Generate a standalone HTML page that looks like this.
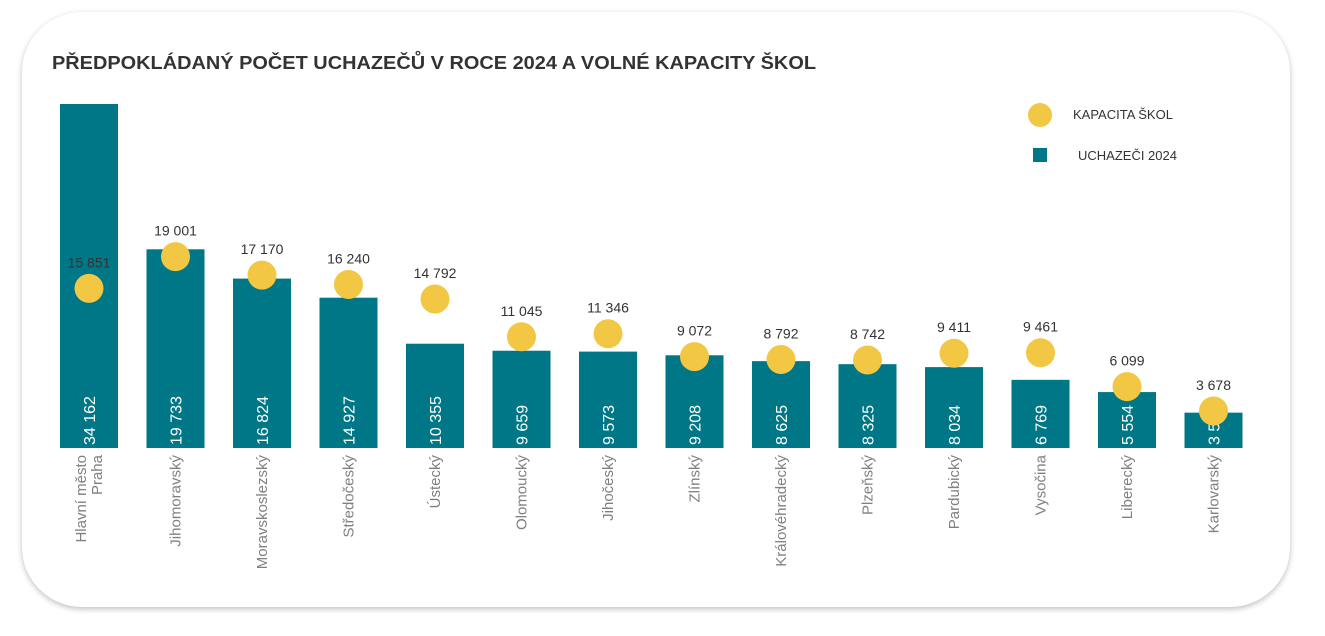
<!DOCTYPE html>
<html><head><meta charset="utf-8"><style>
body{margin:0;width:1325px;height:636px;background:#fff;overflow:hidden;font-family:"Liberation Sans",sans-serif}
#card{position:absolute;left:22px;top:12px;width:1268px;height:595px;border-radius:60px;background:#fff;box-shadow:0 2px 6px rgba(0,0,0,.25)}
svg{position:absolute;left:0;top:0}
</style></head><body>
<div id="card"></div>
<svg id="chart" width="1325" height="636">
<text x="52" y="69" font-size="18.5" font-weight="bold" fill="#333" textLength="764" lengthAdjust="spacingAndGlyphs">PŘEDPOKLÁDANÝ POČET UCHAZEČŮ V ROCE 2024 A VOLNÉ KAPACITY ŠKOL</text>
<circle cx="1040" cy="115" r="12" fill="#f2c744"/>
<text x="1073" y="119" font-size="13" fill="#333">KAPACITA ŠKOL</text>
<rect x="1033" y="148" width="14" height="14" fill="#007786"/>
<text x="1078" y="160" font-size="13" fill="#333">UCHAZEČI 2024</text>
</svg>
<script>
const categories=["Hlavní město|Praha","Jihomoravský","Moravskoslezský","Středočeský","Ústecký","Olomoucký","Jihočeský","Zlínský","Královéhradecký","Plzeňský","Pardubický","Vysočina","Liberecký","Karlovarský"];
const applicants=[34162,19733,16824,14927,10355,9659,9573,9208,8625,8325,8034,6769,5554,3512];
const capacity=[15851,19001,17170,16240,14792,11045,11346,9072,8792,8742,9411,9461,6099,3678];
const svg=document.getElementById('chart');const NS='http://www.w3.org/2000/svg';
const base=448,k=344/34162;
const y=v=>base-v*k;
const x=i=>89+i*86.5;
const fmt=v=>String(v).replace(/\B(?=(\d{3})+(?!\d))/g,' ');
function mk(t,a){const e=document.createElementNS(NS,t);for(const n in a)e.setAttribute(n,a[n]);svg.appendChild(e);return e;}
categories.forEach((c,i)=>{
 const cx=x(i);
 const r=mk('rect',{x:cx-29,y:y(applicants[i]),width:58,height:base-y(applicants[i]),fill:'#007786'});
 
 
 const vl=mk('text',{x:0,y:0,'font-size':16,fill:'#fff','text-anchor':'start',transform:`translate(${cx+6},${base-3}) rotate(-90)`});
 vl.textContent=fmt(applicants[i]);
 
 
 const lines=c.split('|');
 lines.forEach((ln,j)=>{
  const off=(j-(lines.length-1)/2)*16;
  const t=mk('text',{x:0,y:0,'font-size':15,fill:'#808080','text-anchor':'end',transform:`translate(${cx+5+off},${455}) rotate(-90)`});
  t.textContent=ln;
  
  
 });
 const cy=y(capacity[i]);
 const ci=mk('circle',{cx:cx,cy:cy,r:14.5,fill:'#f2c744'});
 
 
 const cl=mk('text',{x:cx,y:cy-21,'font-size':14,fill:'#333','text-anchor':'middle'});
 cl.textContent=fmt(capacity[i]);
 
 
});
</script>
</body></html>
